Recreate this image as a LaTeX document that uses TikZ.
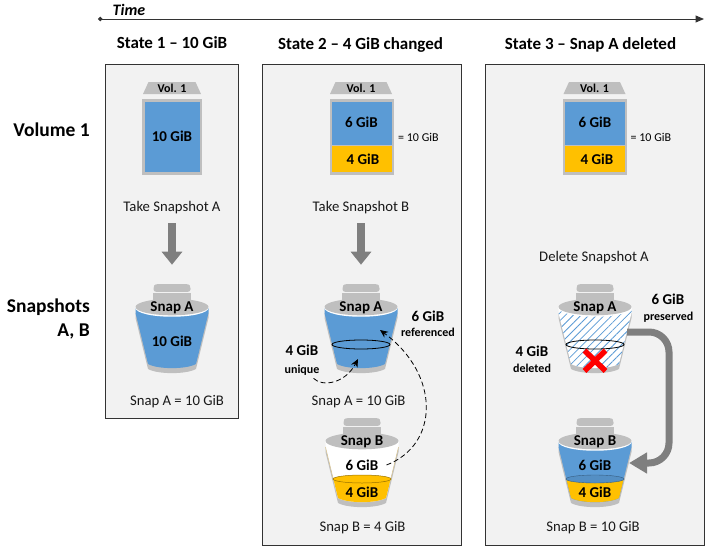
\documentclass[tikz,border=0pt]{standalone}
\usepackage{fontspec}
\setmainfont{Carlito}
\usetikzlibrary{arrows.meta,patterns.meta}
\definecolor{snapblue}{HTML}{5B9BD5}
\definecolor{snapyellow}{HTML}{FFC000}
\definecolor{snapgray}{HTML}{BFBFBF}
\definecolor{panelgray}{HTML}{F2F2F2}
\definecolor{arrowgray}{HTML}{7F7F7F}
\definecolor{bandline}{HTML}{D9C48F}
\tikzset{
  panel/.style={draw=black!80,fill=panelgray,line width=1pt},
  bigtxt/.style={font=\fontsize{19.5}{23}\selectfont\bfseries,inner sep=0pt},
  headtxt/.style={font=\fontsize{17}{20}\selectfont\bfseries,inner sep=0pt},
  gibtxt/.style={font=\fontsize{15}{18}\selectfont\bfseries,inner sep=0pt},
  bodytxt/.style={font=\fontsize{14.7}{18}\selectfont,text=black!90,inner sep=0pt},
  smalltxt/.style={font=\fontsize{12}{14}\selectfont,inner sep=0pt},
  smallbold/.style={font=\fontsize{12}{14}\selectfont\bfseries,inner sep=0pt},
  fatarrow/.style={draw=arrowgray,line width=7.5pt,-{Triangle[length=13pt,width=20pt]}},
  dasharrow/.style={draw=black,line width=.8pt,dash pattern=on 5pt off 3pt,-{Stealth[length=8pt,width=7pt]}},
}
\newcommand{\bucketshape}{(-36.5,24) -- (-36.5,29) -- (-24,80) .. controls (-14,85.5) and (14,85.5) .. (24,80) -- (36.5,29) -- (36.5,24) -- cycle}
\newcommand{\bucketrim}{\fill[snapgray, yshift=-5pt] \bucketshape;}
\newcommand{\bucketlid}{%
\fill[white] (-37,23) .. controls (-37,35.5) and (37,35.5) .. (37,23) -- cycle;
\fill[snapgray] (-19,16) -- (-19,8.6) -- (19,8.6) -- (19,16) -- cycle;
\fill[snapgray, rounded corners=2.5pt] (-18.5,7.8) -- (-18.5,2) -- (-16,0) -- (16,0) -- (18.5,2) -- (18.5,7.8) -- cycle;
\fill[snapgray] (0,23) ellipse [x radius=36.5, y radius=8.3];
}
\newcommand{\volcap}[2]{\fill[snapgray] (#1,94) -- (#1+5.5,82) -- (#1+#2-5.5,82) -- (#1+#2,94) -- cycle;}

\begin{document}
\begin{tikzpicture}[x=1pt,y=-1pt]
\useasboundingbox (0,0) rectangle (712,554);
\path [panel] (105.5,64) rectangle (238.5,418.5);
\path [panel] (262,64) rectangle (461.5,545.5);
\path [panel] (485,64) rectangle (704,545.5);
% time line
\coordinate (timestart) at (98,19);
\coordinate (timeend) at (704,19);
\draw[black!80,line width=1pt,{Circle[length=4.5pt]}-{Triangle[length=8.5pt,width=7pt]}] (timestart) -- (timeend);
\node[font=\fontsize{16}{18}\selectfont\bfseries\itshape,inner sep=0pt] (timetxt) at (129,10) {Time};
\node[headtxt] (state1) at (172,43) {State 1 – 10 GiB};
\node[headtxt] (state2) at (360.5,44.5) {State 2 – 4 GiB changed};
\node[headtxt] (state3) at (590.5,44.5) {State 3 – Snap A deleted};
\node[bigtxt,anchor=east] (vollabel) at (90,130) {Volume 1};
\node[bigtxt,anchor=east,align=right] (snaplabel) at (90,319) {Snapshots\\[1pt]A, B};
% volumes
\volcap{143}{58}
\fill[snapgray] (142,99) rectangle (202,174.5);
\fill[snapblue] (144.5,101.5) rectangle (200,171.5);
\node[smallbold] (vol1a) at (172,88) {Vol. 1};
\node[gibtxt] (gib1a) at (172,136) {10 GiB};
\volcap{330}{62}
\fill[snapgray] (329.5,99) rectangle (393.5,175);
\fill[snapblue] (331.5,101.5) rectangle (392,144.5);
\fill[snapyellow] (331.5,146) rectangle (392,172.3);
\node[smallbold] (vol1b) at (361,88) {Vol. 1};
\node[gibtxt] (gib2a) at (361.5,122) {6 GiB};
\node[gibtxt] (gib2b) at (363,159) {4 GiB};
\node[smalltxt,anchor=west] (sum2) at (398,137) {= 10 GiB};
\volcap{563.5}{62}
\fill[snapgray] (562.7,99) rectangle (626.7,175);
\fill[snapblue] (564.5,101.5) rectangle (624.5,144.5);
\fill[snapyellow] (564.5,146) rectangle (624.5,172.3);
\node[smallbold] (vol1c) at (594.5,88) {Vol. 1};
\node[gibtxt] (gib3a) at (595,122) {6 GiB};
\node[gibtxt] (gib3b) at (597,159) {4 GiB};
\node[smalltxt,anchor=west] (sum3) at (630.5,137) {= 10 GiB};
% state 1 bucket
\begin{scope}[shift={(172,284)}]
\bucketrim
\fill[snapblue] \bucketshape;
\bucketlid
\end{scope}
\node[gibtxt] (snapA1) at (172,308) {Snap A};
\node[gibtxt] (gib1c) at (172,341) {10 GiB};
% state 2 buckets
\begin{scope}[shift={(361,284)}]
\bucketrim
\fill[snapblue] \bucketshape;
\draw[black,line width=.8pt] (0,60.5) ellipse [x radius=29, y radius=4.5];
\bucketlid
\end{scope}
\begin{scope}[shift={(362,418)}]
\bucketrim
\fill[white] \bucketshape;
\draw[bandline,line width=.5pt] (-36.5,29) -- (-28.5,62) (36.5,29) -- (28.5,62);
\begin{scope}
\clip \bucketshape;
\fill[snapyellow] (-40,61) rectangle (40,90);
\end{scope}
\draw[snapyellow!60!black,fill=snapyellow,line width=.5pt] (0,61) ellipse [x radius=29, y radius=4];
\bucketlid
\end{scope}
\node[gibtxt] (snapA2) at (361,308) {Snap A};
\node[gibtxt] (snapB2) at (362,442) {Snap B};
\node[gibtxt] (gib2c) at (362,465) {6 GiB};
\node[gibtxt] (gib2d) at (362,492) {4 GiB};
\node[gibtxt] (uniq1) at (302,350) {4 GiB};
\node[smallbold] (uniq2) at (302,370) {unique};
\node[gibtxt] (ref1) at (428,316) {6 GiB};
\node[smallbold] (ref2) at (428,332.5) {referenced};
\coordinate (uniqend) at (358,359);
\coordinate (refend) at (380,330);
\draw[dasharrow] ([shift={(-6,3)}]uniq2.south east) .. controls (322,387) and (345,384) .. (uniqend);
\draw[dasharrow] (gib2c.east) ++ (8,0) .. controls (439,445) and (441,375) .. (refend);
% state 3 buckets
\begin{scope}[shift={(595,284)}]
\bucketrim
\fill[white] \bucketshape;
\fill[pattern={Lines[angle=45,distance=5.5pt,line width=.8pt]},pattern color=snapblue] \bucketshape;
\draw[black,line width=.8pt] (0,60.5) ellipse [x radius=29, y radius=4.5];
\bucketlid
\draw[red,line width=5.5pt] (-10.5,66.5) -- (10.5,87) (10.5,66.5) -- (-10.5,87);
\end{scope}
\begin{scope}[shift={(595,418)}]
\bucketrim
\fill[snapblue] \bucketshape;
\begin{scope}
\clip \bucketshape;
\fill[snapyellow] (-40,61) rectangle (40,90);
\end{scope}
\draw[snapblue!60!black,fill=snapblue!92!black,line width=.4pt] (0,61) ellipse [x radius=29, y radius=4];
\bucketlid
\end{scope}
\node[gibtxt] (snapA3) at (595,308) {Snap A};
\node[gibtxt] (snapB3) at (595,442) {Snap B};
\node[gibtxt] (gib3c) at (595,465) {6 GiB};
\node[gibtxt] (gib3d) at (595,492) {4 GiB};
\node[gibtxt] (del1) at (532,351) {4 GiB};
\node[smallbold] (del2) at (532,368) {deleted};
\node[gibtxt] (keep1) at (668,299) {6 GiB};
\node[smallbold] (keep2) at (668.5,317) {preserved};
\coordinate (keepstart) at (627,332);
\coordinate (keepend) at (629,463);
\draw[fatarrow,line width=7pt,rounded corners=20pt,-{Triangle[length=18pt,width=20pt]}] (keepstart) -- (669,332) -- (669,463) -- (keepend);
% texts under the buckets
\node[bodytxt] (take1) at (172,207.5) {Take Snapshot A};
\node[bodytxt] (take2) at (361,207.5) {Take Snapshot B};
\node[bodytxt] (delA) at (594,257.5) {Delete Snapshot A};
\node[bodytxt] (sumA1) at (177,401.5) {Snap A = 10 GiB};
\node[bodytxt] (sumA2) at (358.5,401.5) {Snap A = 10 GiB};
\node[bodytxt] (sumB2) at (362.5,527.5) {Snap B = 4 GiB};
\node[bodytxt] (sumB3) at (593,527.5) {Snap B = 10 GiB};
% down arrows
\draw[fatarrow,shorten <=9.5pt,shorten >=37pt] (take1.south) -- (snapA1.north);
\draw[fatarrow,shorten <=9.5pt,shorten >=37pt] (take2.south) -- (snapA2.north);
\end{tikzpicture}
\end{document}
